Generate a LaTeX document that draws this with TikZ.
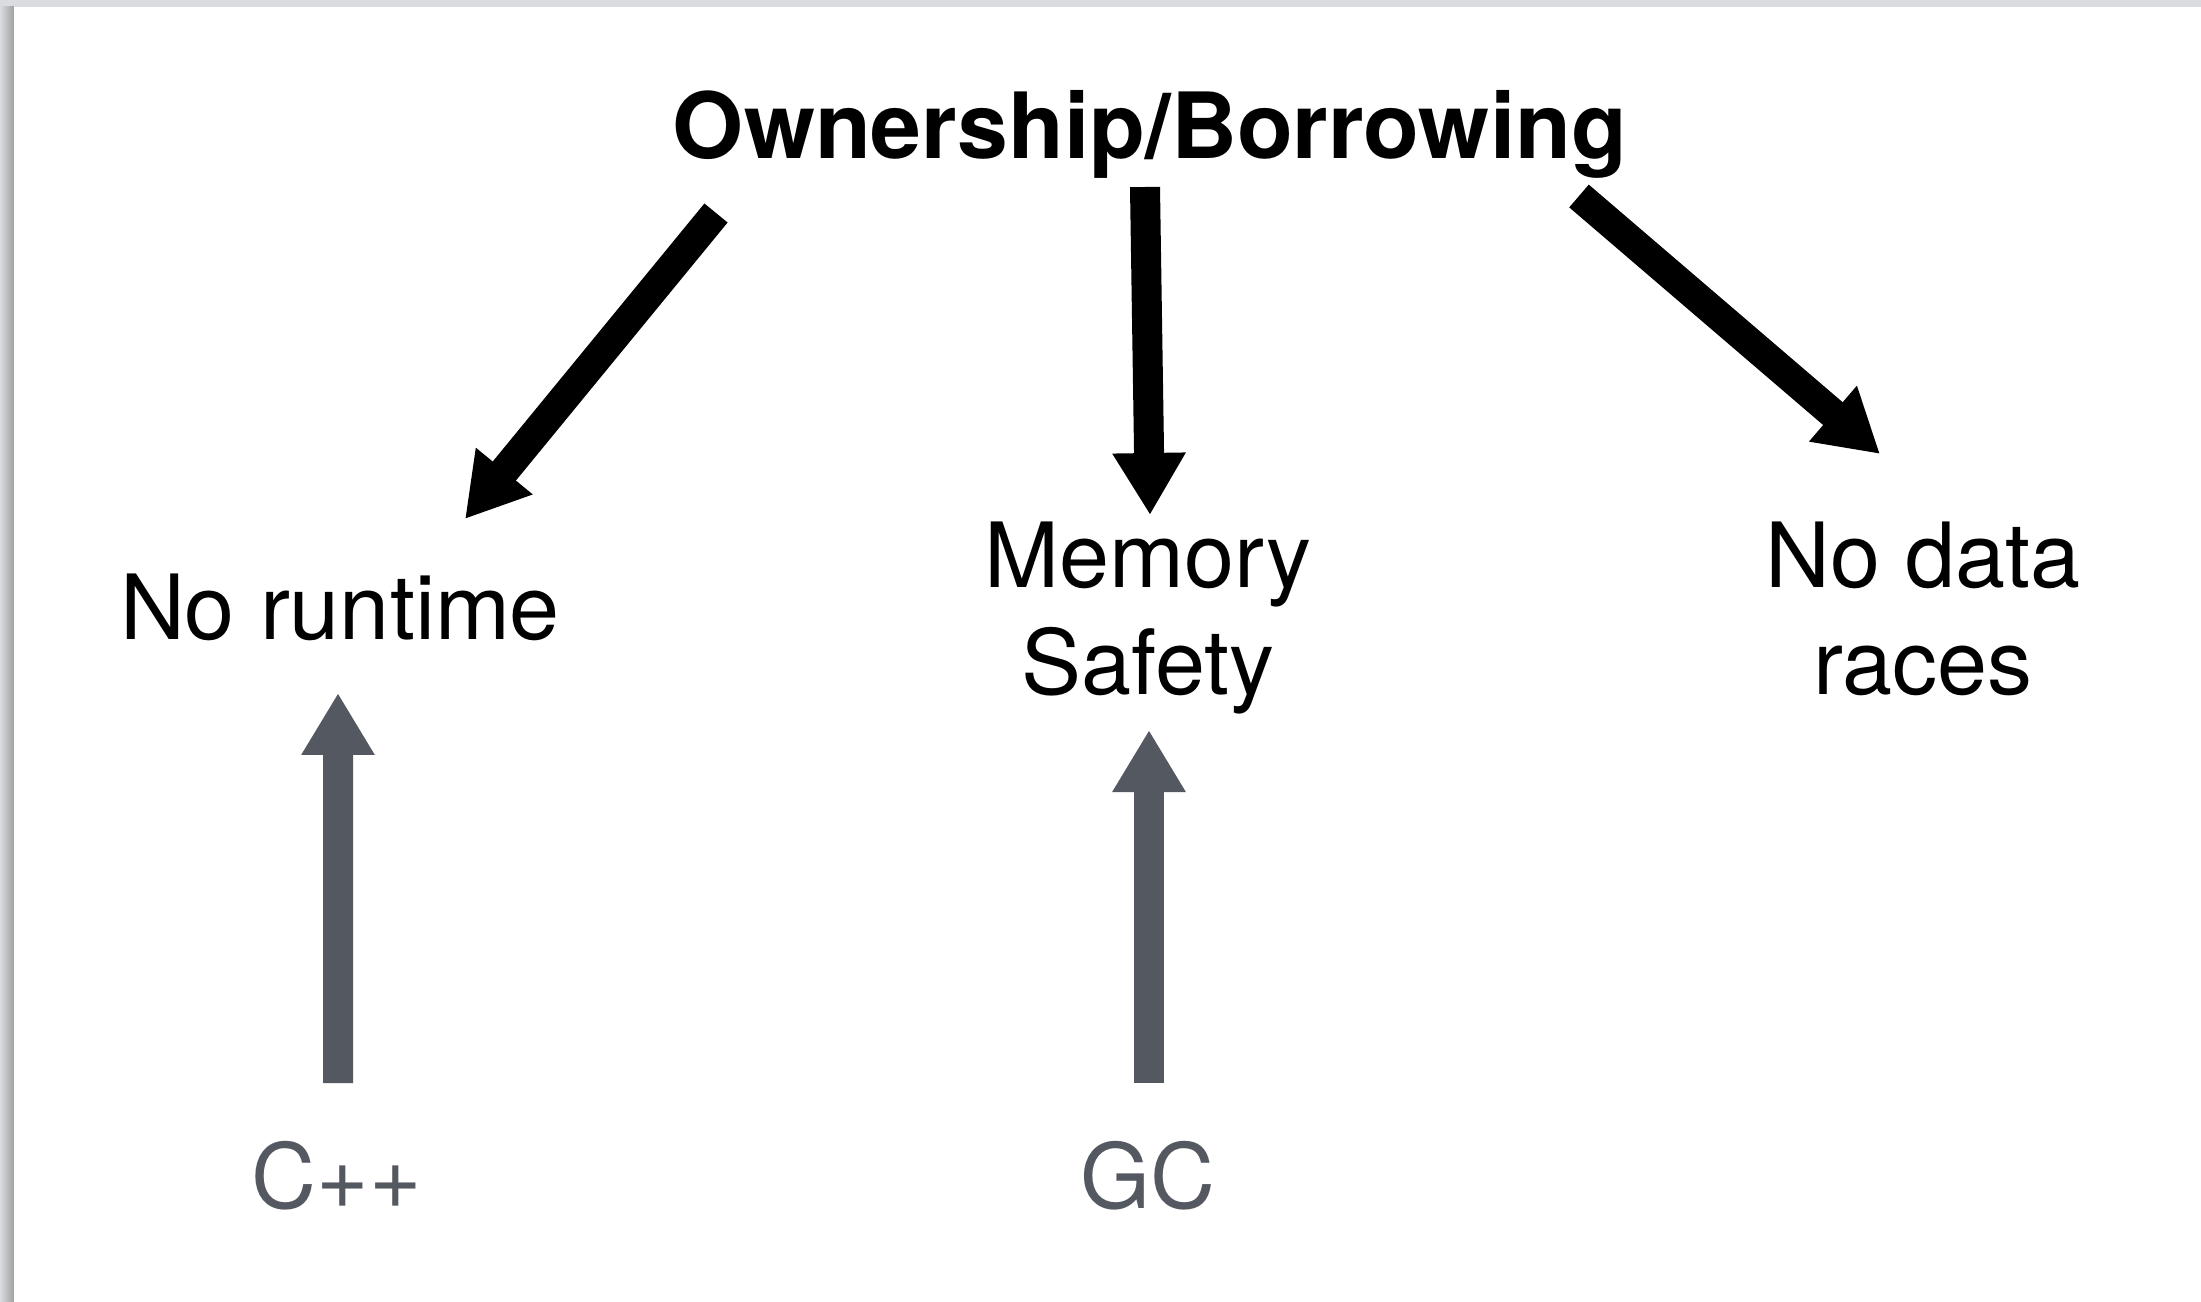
\documentclass[tikz,border=0pt]{standalone}
\usepackage{fontspec}
\setmainfont{TeX Gyre Heros}
\usetikzlibrary{arrows.meta}

\definecolor{slate}{RGB}{84,88,96}
\definecolor{framegray}{RGB}{218,220,224}

\begin{document}
\begin{tikzpicture}[
    bigarrow/.style={line width=3mm, -{Triangle[width=6.9mm,length=6.2mm]}},
    lbl/.style={inner sep=0pt, anchor=base, align=center, font=\fontsize{25.6}{30.7}\selectfont},
  ]
    \useasboundingbox (0,0) rectangle (22.01,-13.02);

    % slide frame
    \fill[framegray] (0,0) rectangle (22.01,-13.02);
    \shade[left color=framegray, right color=gray!75] (0,-0.07) rectangle (0.14,-13.02);
    \fill[white] (0.14,-0.07) rectangle (22.01,-13.02);

    % Labels
    \node[lbl, font=\fontsize{26}{31}\selectfont\bfseries] (own) at (11.50,-1.59) {Ownership/Borrowing};
    \node[lbl] (norun) at (3.40,-6.40) {No runtime};
    \node[lbl] (memsafe) at (11.48,-6.95) {Memory\\Safety};
    \node[lbl] (nodata) at (19.23,-6.95) {No data\\races};
    \node[lbl, text=slate] (cpp) at (3.37,-12.08) {C++};
    \node[lbl, text=slate] (gc) at (11.48,-12.08) {GC};

    % What ownership gives
    \draw[bigarrow] ([xshift=-4.34cm,yshift=-0.54cm]own.base) -- ([xshift=1.25cm,yshift=1.21cm]norun.base);
    \draw[bigarrow] ([xshift=-0.05cm,yshift=-0.28cm]own.base) -- ([xshift=0.02cm,yshift=1.80cm]memsafe.base);
    \draw[bigarrow] ([xshift=4.29cm,yshift=-0.37cm]own.base) -- ([xshift=-0.43cm,yshift=2.41cm]nodata.base);

    % What others give
    \draw[bigarrow, slate] ([xshift=0.01cm,yshift=1.25cm]cpp.base) -- ([xshift=-0.02cm,yshift=-0.53cm]norun.base);
    \draw[bigarrow, slate] ([xshift=0.01cm,yshift=1.25cm]gc.base) -- ([xshift=0.01cm,yshift=-0.35cm]memsafe.base);
\end{tikzpicture}
\end{document}
